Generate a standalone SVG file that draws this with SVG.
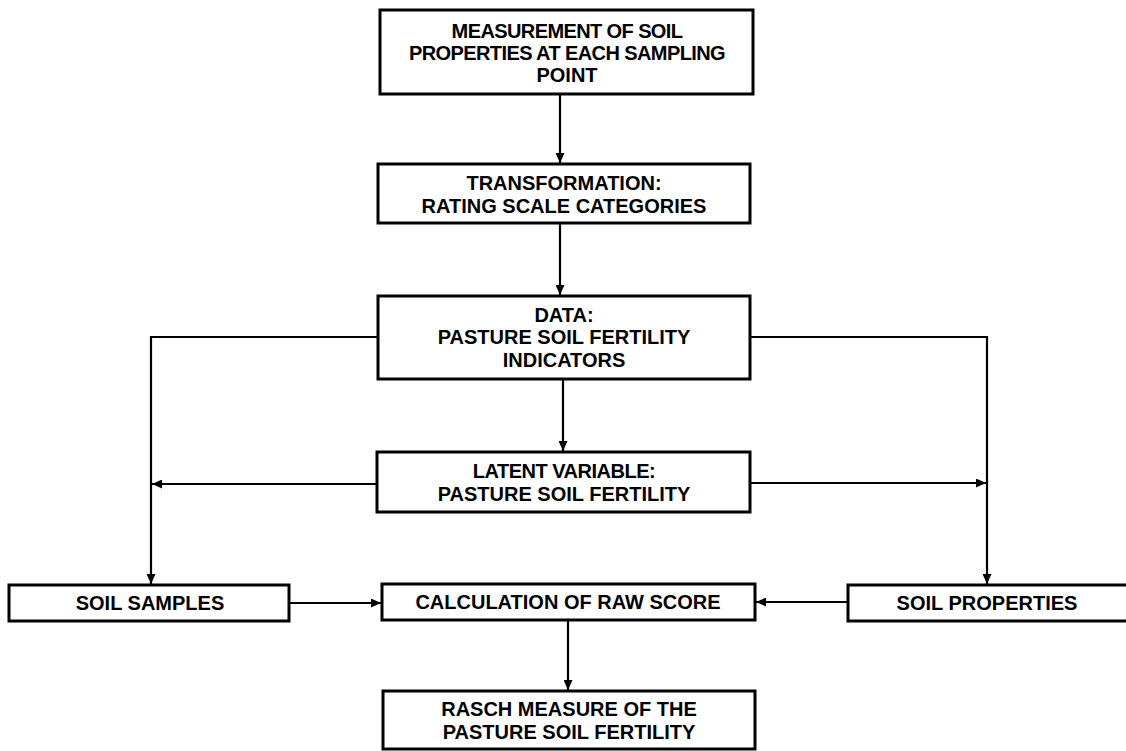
<svg xmlns="http://www.w3.org/2000/svg" width="1126" height="751" viewBox="0 0 1126 751">
<style>
.box{fill:#fff;stroke:#000;stroke-width:3}
.t{font-family:"Liberation Sans",Arial,sans-serif;font-weight:bold;font-size:20px;fill:#000;text-anchor:middle}
.c{fill:none;stroke:#000;stroke-width:2.2}
</style>
<defs>
<marker id="ah" viewBox="0 0 10 10" refX="10" refY="5" markerWidth="10" markerHeight="9" markerUnits="userSpaceOnUse" orient="auto" preserveAspectRatio="none">
<path d="M0,0 L10,5 L0,10 z" fill="#000"/>
</marker>
</defs>
<rect width="1126" height="751" fill="#fff"/>
<g id="connectors">
<path class="c" d="M560,94 V163" marker-end="url(#ah)"/>
<path class="c" d="M560,223 V295" marker-end="url(#ah)"/>
<path class="c" d="M563,379 V451" marker-end="url(#ah)"/>
<path class="c" d="M378,337 H151 V584" marker-end="url(#ah)"/>
<path class="c" d="M377,484 H152" marker-end="url(#ah)"/>
<path class="c" d="M750,337 H987 V584" marker-end="url(#ah)"/>
<path class="c" d="M750,483 H986" marker-end="url(#ah)"/>
<path class="c" d="M289,603 H381" marker-end="url(#ah)"/>
<path class="c" d="M848,602 H756" marker-end="url(#ah)"/>
<path class="c" d="M568,620 V690" marker-end="url(#ah)"/>
</g>
<g id="n1"><rect class="box" x="380" y="10" width="373" height="84"/>
<text class="t" x="567" y="38" letter-spacing="-0.6">MEASUREMENT OF SOIL</text>
<text class="t" x="567" y="60" letter-spacing="-0.6">PROPERTIES AT EACH SAMPLING</text>
<text class="t" x="567" y="82">POINT</text></g>
<g id="n2"><rect class="box" x="378" y="164" width="372" height="59"/>
<text class="t" x="564" y="190">TRANSFORMATION:</text>
<text class="t" x="564" y="213">RATING SCALE CATEGORIES</text></g>
<g id="n3"><rect class="box" x="378" y="296" width="372" height="83"/>
<text class="t" x="564" y="322">DATA:</text>
<text class="t" x="564" y="344">PASTURE SOIL FERTILITY</text>
<text class="t" x="564" y="367">INDICATORS</text></g>
<g id="n4"><rect class="box" x="377" y="452" width="373" height="60"/>
<text class="t" x="564" y="478" letter-spacing="-0.5">LATENT VARIABLE:</text>
<text class="t" x="564" y="501">PASTURE SOIL FERTILITY</text></g>
<g id="n5"><rect class="box" x="9" y="585" width="280" height="36"/>
<text class="t" x="150" y="610">SOIL SAMPLES</text></g>
<g id="n6"><rect class="box" x="382" y="584" width="373" height="36"/>
<text class="t" x="568" y="609">CALCULATION OF RAW SCORE</text></g>
<g id="n7"><rect class="box" x="848" y="585" width="285" height="36"/>
<text class="t" x="987" y="610">SOIL PROPERTIES</text></g>
<g id="n8"><rect class="box" x="383" y="691" width="372" height="58"/>
<text class="t" x="569" y="716">RASCH MEASURE OF THE</text>
<text class="t" x="569" y="739">PASTURE SOIL FERTILITY</text></g>
</svg>
